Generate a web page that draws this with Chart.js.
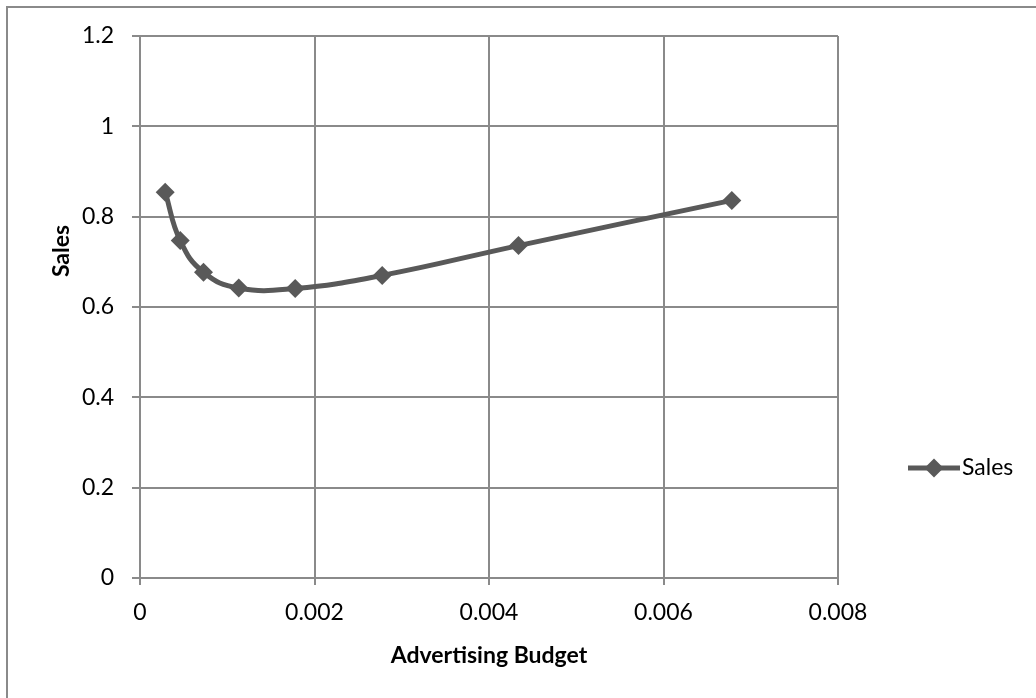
<!DOCTYPE html>
<html>
<head>
<meta charset="utf-8">
<script src="https://cdn.jsdelivr.net/npm/chart.js@4.4.1/dist/chart.umd.min.js"></script>
<style>
  html, body { margin: 0; padding: 0; background: #fff; }
  canvas { display: block; }
</style>
</head>
<body>
<canvas id="chart" width="1036" height="698"></canvas>
<script>
// --- DATA ---
const adBudget = [0.000289, 0.000461, 0.000728, 0.001132, 0.001779, 0.002776, 0.004338, 0.006783];
const sales = [0.854, 0.747, 0.677, 0.642, 0.641, 0.670, 0.736, 0.836];
const xTickLabels = ["0", "0.002", "0.004", "0.006", "0.008"];
const yTickLabels = ["0", "0.2", "0.4", "0.6", "0.8", "1", "1.2"];

const LINE = "#595959";
const GRID = "#8a8a8a";
const FONT = "Lato, 'Open Sans', sans-serif";
const FONT_SIZE = 23;

// outer frame, rotated y title and the legend off to the right
const decor = {
  id: "decor",
  beforeDraw(chart) {
    const ctx = chart.ctx;
    ctx.save();
    ctx.fillStyle = "#fff";
    ctx.fillRect(0, 0, chart.width, chart.height);
    ctx.strokeStyle = GRID;
    ctx.lineWidth = 2;
    ctx.beginPath();
    ctx.moveTo(7, chart.height);
    ctx.lineTo(7, 7);
    ctx.lineTo(chart.width, 7);
    ctx.stroke();
    ctx.restore();
  },
  afterDraw(chart) {
    const ctx = chart.ctx;
    ctx.save();
    // y title
    ctx.translate(62, 251);
    ctx.rotate(-Math.PI / 2);
    ctx.font = "bold " + FONT_SIZE + "px " + FONT;
    ctx.fillStyle = "#000";
    ctx.textAlign = "center";
    ctx.textBaseline = "middle";
    ctx.fillText("Sales", 0, 0);
    ctx.restore();

    // legend
    const ds = chart.data.datasets[0];
    const ly = 468;
    ctx.save();
    ctx.strokeStyle = ds.borderColor;
    ctx.lineWidth = ds.borderWidth;
    ctx.beginPath();
    ctx.moveTo(908, ly);
    ctx.lineTo(960, ly);
    ctx.stroke();
    ctx.fillStyle = ds.pointBackgroundColor;
    Chart.helpers.drawPoint(ctx, { pointStyle: "rectRot", radius: ds.pointRadius, borderWidth: 0 }, 934, ly);
    ctx.font = FONT_SIZE + "px " + FONT;
    ctx.fillStyle = "#000";
    ctx.textAlign = "left";
    ctx.textBaseline = "middle";
    ctx.fillText(ds.label, 962, ly);
    ctx.restore();
  },
};

const points = adBudget.map((x, i) => ({ x: x, y: sales[i] }));

new Chart(document.getElementById("chart"), {
  type: "line",
  data: {
    datasets: [
      {
        label: "Sales",
        data: points,
        borderColor: LINE,
        borderWidth: 5,
        tension: 0.45,
        pointStyle: "rectRot",
        pointRadius: 9.5,
        pointBackgroundColor: LINE,
        pointBorderColor: LINE,
        pointBorderWidth: 0,
      },
    ],
  },
  options: {
    responsive: false,
    animation: false,
    devicePixelRatio: 1,
    layout: { padding: { top: 36, right: 198, bottom: 0, left: 0 } },
    plugins: { legend: { display: false }, tooltip: { enabled: false } },
    scales: {
      x: {
        type: "linear",
        min: 0,
        max: 0.008,
        afterFit: (s) => { s.height = 120; },
        grid: { color: GRID, lineWidth: 2, tickLength: 7, tickColor: GRID },
        border: { color: GRID, width: 2 },
        ticks: {
          stepSize: 0.002,
          padding: 14,
          color: "#000",
          font: { family: FONT, size: FONT_SIZE },
          callback: (v, i) => xTickLabels[i],
        },
        title: {
          display: true,
          text: "Advertising Budget",
          color: "#000",
          font: { family: FONT, size: FONT_SIZE, weight: "bold" },
          padding: { top: 0, bottom: 29 },
        },
      },
      y: {
        min: 0,
        max: 1.2,
        afterFit: (s) => { s.width = 140; },
        grid: { color: GRID, lineWidth: 2, tickLength: 8, tickColor: GRID },
        border: { color: GRID, width: 2 },
        ticks: {
          stepSize: 0.2,
          padding: 18,
          color: "#000",
          font: { family: FONT, size: FONT_SIZE },
          callback: (v, i) => yTickLabels[i],
        },
      },
    },
  },
  plugins: [decor],
});
</script>
</body>
</html>
